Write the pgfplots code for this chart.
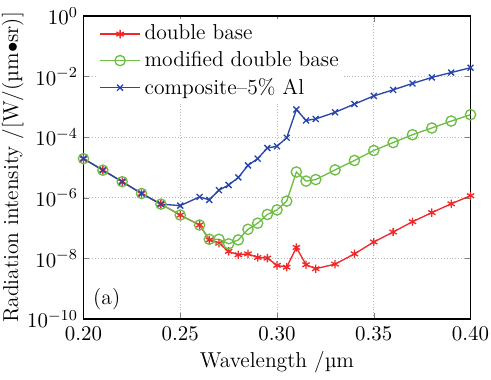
\documentclass[border=0pt]{standalone}
\usepackage{pgfplots}
\pgfplotsset{compat=1.18}
\definecolor{cred}{RGB}{240,40,40}
\definecolor{cgreen}{RGB}{110,190,70}
\definecolor{cblue}{RGB}{40,70,170}
\begin{document}
\fontsize{11.3}{13.5}\selectfont
\begin{tikzpicture}[font=\fontsize{11.3}{13.5}\selectfont]
\begin{axis}[
  scale only axis,
  width=203pt, height=159pt,
  xmin=0.2, xmax=0.4,
  ymode=log, ymin=1e-10, ymax=1,
  xtick={0.20,0.25,0.30,0.35,0.40},
  ytick={1e-10,1e-8,1e-6,1e-4,1e-2,1},
  yminorticks=false,
  xticklabel style={inner xsep=1pt,/pgf/number format/fixed,/pgf/number format/fixed zerofill,/pgf/number format/precision=2},
  yticklabel style={xshift=1pt},
  tick align=inside,
  major tick length=3pt,
  grid=major,
  major grid style={gray!55, line width=0.5pt, densely dotted},
  axis line style={line width=0.8pt},
  xlabel={Wavelength /µm},
  ylabel={Radiation intensity /[W/(µm$\bullet$sr)]},
  xlabel style={yshift=2pt},
  ylabel style={inner sep=1pt, yshift=-3pt},
  legend style={at={(rel axis cs:0.035,0.99)}, anchor=north west, draw=none, fill=white, row sep=0.3pt, inner sep=1pt},
  legend cell align=left,
  legend image code/.code={\draw[mark repeat=2,mark phase=2,#1] plot coordinates {(0cm,0cm) (0.37cm,0cm) (0.74cm,0cm)};},
]
\addplot[cred, line width=0.7pt, mark=asterisk, mark size=2.2pt, mark options={line width=0.7pt}] coordinates {
(0.20,1.95e-5) (0.21,8.13e-6) (0.22,3.39e-6) (0.23,1.38e-6) (0.24,6.17e-7)
(0.25,2.69e-7) (0.26,1.26e-7) (0.265,4.07e-8) (0.27,3.16e-8) (0.275,1.70e-8)
(0.28,1.32e-8) (0.285,1.41e-8) (0.29,1.07e-8) (0.295,1.02e-8) (0.30,5.89e-9)
(0.305,5.13e-9) (0.31,2.29e-8) (0.315,6.17e-9) (0.32,4.57e-9) (0.33,6.46e-9)
(0.34,1.41e-8) (0.35,3.47e-8) (0.36,7.41e-8) (0.37,1.62e-7) (0.38,3.24e-7)
(0.39,6.31e-7) (0.40,1.17e-6)
};
\addlegendentry{double base}
\addplot[cgreen, line width=0.7pt, mark=o, mark size=2.7pt, mark options={line width=0.7pt}] coordinates {
(0.20,1.95e-5) (0.21,8.13e-6) (0.22,3.39e-6) (0.23,1.38e-6) (0.24,6.17e-7)
(0.25,2.69e-7) (0.26,1.26e-7) (0.265,4.27e-8) (0.27,4.27e-8) (0.275,3.02e-8)
(0.28,4.07e-8) (0.285,9.12e-8) (0.29,1.45e-7) (0.295,2.82e-7) (0.30,3.98e-7)
(0.305,7.76e-7) (0.31,7.08e-6) (0.315,3.55e-6) (0.32,3.98e-6) (0.33,8.32e-6)
(0.34,1.70e-5) (0.35,3.63e-5) (0.36,6.61e-5) (0.37,1.20e-4) (0.38,2.00e-4)
(0.39,3.39e-4) (0.40,5.50e-4)
};
\addlegendentry{modified double base}
\addplot[cblue, line width=0.7pt, mark=x, mark size=2.2pt, mark options={line width=0.7pt}] coordinates {
(0.20,1.95e-5) (0.21,8.13e-6) (0.22,3.39e-6) (0.23,1.38e-6) (0.24,6.17e-7)
(0.25,5.50e-7) (0.26,1.07e-6) (0.265,8.51e-7) (0.27,1.78e-6) (0.275,2.63e-6)
(0.28,4.68e-6) (0.285,1.17e-5) (0.29,1.95e-5) (0.295,4.37e-5) (0.30,5.01e-5)
(0.305,9.55e-5) (0.31,8.13e-4) (0.315,3.55e-4) (0.32,3.98e-4) (0.33,6.61e-4)
(0.34,1.23e-3) (0.35,2.29e-3) (0.36,3.63e-3) (0.37,5.89e-3) (0.38,9.33e-3)
(0.39,1.35e-2) (0.40,1.95e-2)
};
\addlegendentry{composite\textendash 5\% Al}
\node[anchor=center] at (rel axis cs:0.06,0.065) {(a)};
\end{axis}
\end{tikzpicture}
\end{document}
